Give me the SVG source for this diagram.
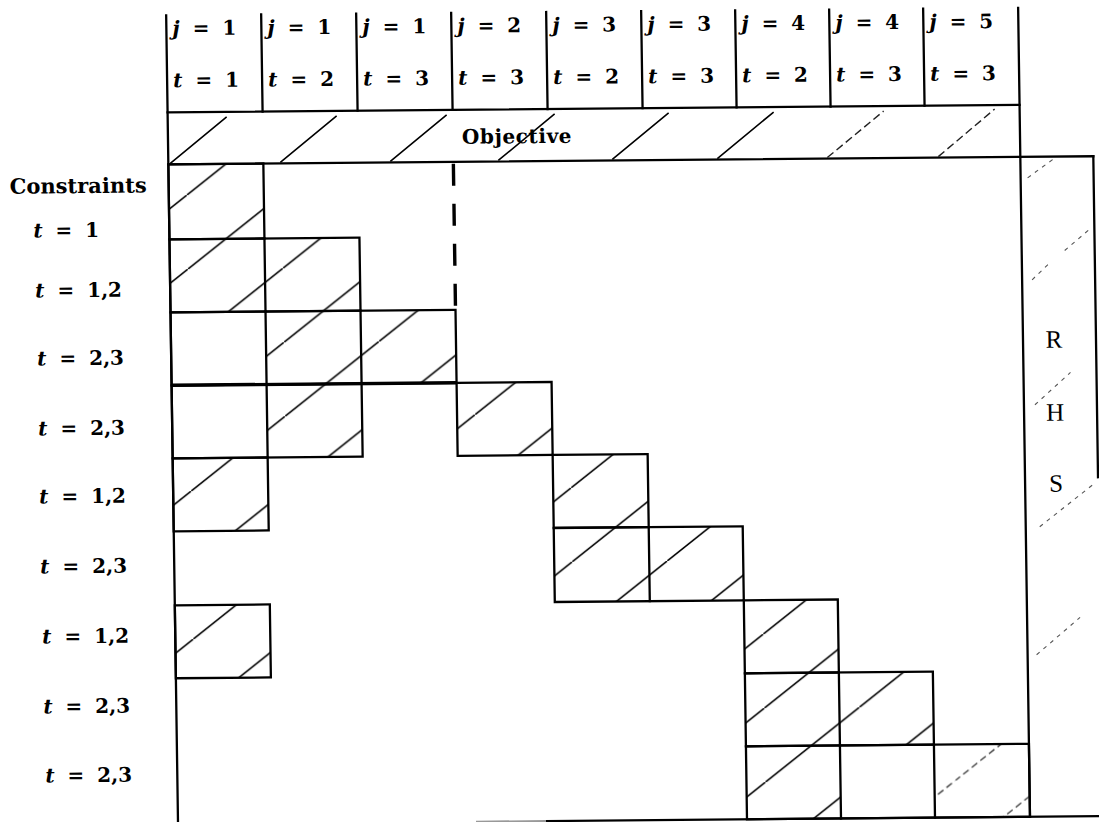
<svg xmlns="http://www.w3.org/2000/svg" width="1099" height="822" viewBox="0 0 1099 822">
<defs>
<style>
.ln{stroke:#000;stroke-width:2.3;fill:none;stroke-linecap:square}
.blk{fill:none;stroke:#000;stroke-width:2.3}
.h{fill:url(#hatch);stroke:none}
.hl{fill:url(#hatchLight);stroke:none}
.oh{stroke:#000;stroke-width:1.6}
.ohd{stroke:#222;stroke-width:1.4;stroke-dasharray:8 4}
.rh{stroke:#555;stroke-width:1.1;stroke-dasharray:4 5}
.m{font-family:"DejaVu Serif",serif;font-weight:bold;font-size:20px;word-spacing:6px;fill:#000}
.v{font-style:italic}
.lbl{font-family:"DejaVu Serif",serif;font-weight:bold;font-size:21px;fill:#000}
.obj{font-family:"DejaVu Serif",serif;font-weight:bold;font-size:20px;letter-spacing:0.6px;fill:#000}
.rhs{font-family:"Liberation Serif",serif;font-size:25px;text-anchor:middle;fill:#000}
</style>
<pattern id="hatch" patternUnits="userSpaceOnUse" x="0" y="44" width="95" height="74">
<path d="M-9.5,81.4 L104.5,-7.4" stroke="#000" stroke-width="1.6" fill="none"/>
</pattern>
<pattern id="hatchLight" patternUnits="userSpaceOnUse" x="0" y="44" width="95" height="74">
<path d="M-9.5,81.4 L104.5,-7.4" stroke="#333" stroke-width="1.3" stroke-dasharray="7 4" fill="none"/>
</pattern>
</defs>
<rect x="0" y="0" width="1099" height="822" fill="#fff"/>
<g transform="rotate(-0.5 550 411) translate(-2.44 0) skewX(0.34)">

<g id="frame">
<path class="ln" d="M172,12 V830"/>
<path class="ln" d="M267,12 V109 M362,12 V109 M457,12 V109 M552,12 V109 M647,12 V109 M741,12 V109 M835,12 V109 M929,12 V109"/>
<path class="ln" d="M1024,12 V821"/>
<path class="ln" d="M172,109 H1024"/>
<path class="ln" d="M172,161 H1097"/>
<path class="ln" d="M1097,161 V482"/>
<path class="ln" d="M540,821 H1110"/>
<path d="M470,821 H540" stroke="#999" stroke-width="2" fill="none"/>
</g>

<g id="header">
<g id="col1"><text class="m" x="178" y="32"><tspan class="v">j</tspan> = 1</text><text class="m" x="178" y="84"><tspan class="v">t</tspan> = 1</text></g>
<g id="col2"><text class="m" x="273" y="32"><tspan class="v">j</tspan> = 1</text><text class="m" x="273" y="84"><tspan class="v">t</tspan> = 2</text></g>
<g id="col3"><text class="m" x="368" y="32"><tspan class="v">j</tspan> = 1</text><text class="m" x="368" y="84"><tspan class="v">t</tspan> = 3</text></g>
<g id="col4"><text class="m" x="463" y="32"><tspan class="v">j</tspan> = 2</text><text class="m" x="463" y="84"><tspan class="v">t</tspan> = 3</text></g>
<g id="col5"><text class="m" x="558" y="32"><tspan class="v">j</tspan> = 3</text><text class="m" x="558" y="84"><tspan class="v">t</tspan> = 2</text></g>
<g id="col6"><text class="m" x="653" y="32"><tspan class="v">j</tspan> = 3</text><text class="m" x="653" y="84"><tspan class="v">t</tspan> = 3</text></g>
<g id="col7"><text class="m" x="747" y="32"><tspan class="v">j</tspan> = 4</text><text class="m" x="747" y="84"><tspan class="v">t</tspan> = 2</text></g>
<g id="col8"><text class="m" x="841" y="32"><tspan class="v">j</tspan> = 4</text><text class="m" x="841" y="84"><tspan class="v">t</tspan> = 3</text></g>
<g id="col9"><text class="m" x="935" y="32"><tspan class="v">j</tspan> = 5</text><text class="m" x="935" y="84"><tspan class="v">t</tspan> = 3</text></g>
</g>

<g id="objective">
<path class="oh" d="M174,160 L231,114 M284,160 L341,114 M394,160 L451,114 M502,160 L559,114 M616,160 L673,114 M721,160 L778,114"/>
<path class="ohd" d="M831,160 L888,114 M942,160 L999,113"/>
<text class="obj" x="466" y="143">Objective</text>
</g>

<g id="row-labels">
<text class="lbl" x="13" y="189">Constraints</text>
<text class="m" x="36" y="233"><tspan class="v">t</tspan> = 1</text>
<text class="m" x="37" y="293"><tspan class="v">t</tspan> = 1,2</text>
<text class="m" x="38" y="361"><tspan class="v">t</tspan> = 2,3</text>
<text class="m" x="38" y="431"><tspan class="v">t</tspan> = 2,3</text>
<text class="m" x="38" y="499"><tspan class="v">t</tspan> = 1,2</text>
<text class="m" x="38" y="569"><tspan class="v">t</tspan> = 2,3</text>
<text class="m" x="39" y="639"><tspan class="v">t</tspan> = 1,2</text>
<text class="m" x="39" y="709"><tspan class="v">t</tspan> = 2,3</text>
<text class="m" x="40" y="778"><tspan class="v">t</tspan> = 2,3</text>
</g>

<g id="blocks">
<g id="b-r1"><rect class="h" x="172" y="161" width="95" height="75"/><rect class="blk" x="172" y="161" width="95" height="75"/></g>
<g id="b-r2"><rect class="h" x="172" y="236" width="190" height="73"/><rect class="blk" x="172" y="236" width="190" height="73"/><path class="ln" d="M267,236 V309"/></g>
<g id="b-r3"><rect class="h" x="267" y="309" width="190" height="73"/><rect class="blk" x="172" y="309" width="285" height="73"/><path class="ln" d="M267,309 V382 M362,309 V382"/></g>
<g id="b-r4a"><rect class="h" x="267" y="382" width="95" height="73"/><rect class="blk" x="172" y="382" width="190" height="73"/><path class="ln" d="M267,382 V455"/></g>
<g id="b-r4b"><rect class="h" x="457" y="382" width="95" height="73"/><rect class="blk" x="457" y="382" width="95" height="73"/></g>
<g id="b-r5a"><rect class="h" x="172" y="455" width="95" height="73"/><rect class="blk" x="172" y="455" width="95" height="73"/></g>
<g id="b-r5b"><rect class="h" x="552" y="455" width="95" height="73"/><rect class="blk" x="552" y="455" width="95" height="73"/></g>
<g id="b-r6"><rect class="h" x="552" y="528" width="189" height="74"/><rect class="blk" x="552" y="528" width="189" height="74"/><path class="ln" d="M647,528 V602"/></g>
<g id="b-r7a"><rect class="h" x="172" y="602" width="95" height="73"/><rect class="blk" x="172" y="602" width="95" height="73"/></g>
<g id="b-r7b"><rect class="h" x="741" y="602" width="94" height="73"/><rect class="blk" x="741" y="602" width="94" height="73"/></g>
<g id="b-r8"><rect class="h" x="741" y="675" width="188" height="73"/><rect class="blk" x="741" y="675" width="188" height="73"/><path class="ln" d="M835,675 V748"/></g>
<g id="b-r9"><rect class="h" x="741" y="748" width="94" height="73"/><rect class="hl" x="929" y="748" width="95" height="73"/><rect class="blk" x="741" y="748" width="283" height="73"/><path class="ln" d="M835,748 V821 M929,748 V821"/></g>
</g>

<g id="connectors">
<path d="M457,163 V309" stroke="#000" stroke-width="3.4" stroke-dasharray="22 18" fill="none"/>
<path d="M172,382 H457" stroke="#000" stroke-width="3.4" fill="none"/>
</g>

<g id="rhs">
<path class="rh" d="M1031,182 L1059,162 M1067,255 L1091,235 M1034,284 L1052,267 M1035,409 L1071,377 M1038,531 L1091,490 M1033,659 L1077,622"/>
<text class="rhs" x="1055" y="352">R</text>
<text class="rhs" x="1055" y="425">H</text>
<text class="rhs" x="1055" y="496">S</text>
</g>

</g>
</svg>
